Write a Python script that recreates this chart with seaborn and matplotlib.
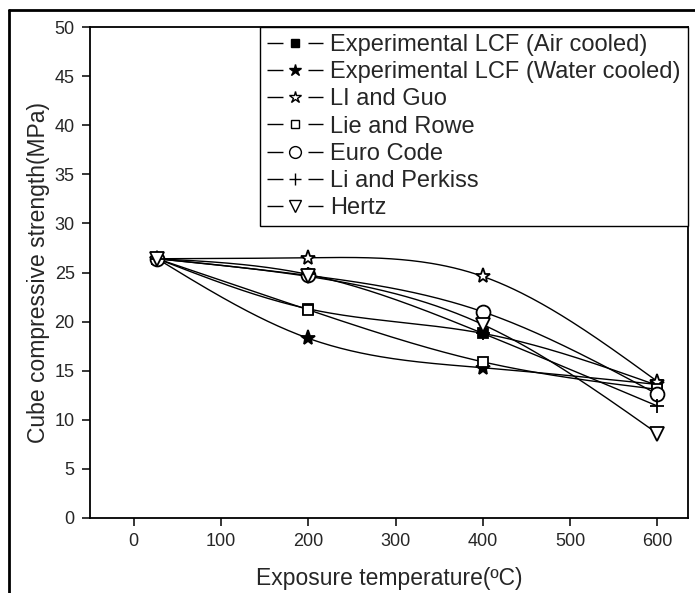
import numpy as np
import pandas as pd
import matplotlib
matplotlib.use("Agg")
import matplotlib.pyplot as plt
from matplotlib.lines import Line2D
from matplotlib.legend_handler import HandlerTuple
import seaborn as sns

# ---- data ----
temps = [27, 200, 400, 600]
air_cooled = [26.4, 21.3, 18.8, 13.5]
water_cooled = [26.4, 18.3, 15.3, 13.6]
li_guo = [26.4, 26.5, 24.6, 13.9]
lie_rowe = [26.4, 21.2, 15.9, 13.1]
euro_code = [26.4, 24.7, 21.0, 12.6]
li_perkiss = [26.4, 24.8, 18.8, 11.4]
hertz = [26.4, 24.6, 19.7, 8.6]

series_names = ["Experimental LCF (Air cooled)", "Experimental LCF (Water cooled)",
                "LI and Guo", "Lie and Rowe", "Euro Code", "Li and Perkiss", "Hertz"]
series_values = [air_cooled, water_cooled, li_guo, lie_rowe, euro_code, li_perkiss, hertz]
x_ticks = [0, 100, 200, 300, 400, 500, 600]
y_ticks = [0, 5, 10, 15, 20, 25, 30, 35, 40, 45, 50]

markers = ["s", "*", "*", "s", "o", "+", "v"]
faces = ["black", "black", "white", "white", "white", "none", "white"]
msizes = [7, 11, 11, 7, 10, 10, 10]


def natural_spline(x, y, n=200):
    x = np.asarray(x, float); y = np.asarray(y, float)
    k = len(x); h = np.diff(x)
    A = np.zeros((k, k)); b = np.zeros(k)
    A[0, 0] = 1; A[-1, -1] = 1
    for i in range(1, k - 1):
        A[i, i - 1] = h[i - 1]; A[i, i] = 2 * (h[i - 1] + h[i]); A[i, i + 1] = h[i]
        b[i] = 6 * ((y[i + 1] - y[i]) / h[i] - (y[i] - y[i - 1]) / h[i - 1])
    M = np.linalg.solve(A, b)
    xs = np.linspace(x[0], x[-1], n)
    idx = np.clip(np.searchsorted(x, xs) - 1, 0, k - 2)
    x0 = x[idx]; x1 = x[idx + 1]; hh = x1 - x0
    ys = (M[idx] * (x1 - xs) ** 3 / (6 * hh) + M[idx + 1] * (xs - x0) ** 3 / (6 * hh)
          + (y[idx] / hh - M[idx] * hh / 6) * (x1 - xs)
          + (y[idx + 1] / hh - M[idx + 1] * hh / 6) * (xs - x0))
    return xs, ys


sns.set_style("ticks")
plt.rcParams["font.family"] = ["Liberation Sans", "DejaVu Sans"]

fig = plt.figure(figsize=(6.95, 5.93), dpi=100)
ax = fig.add_axes([90 / 695, 1 - 518 / 593, (688 - 90) / 695, (518 - 27) / 593])

handles = []
for name, vals, m, fc, ms in zip(series_names, series_values, markers, faces, msizes):
    xs, ys = natural_spline(temps, vals)
    curve = pd.DataFrame({"x": xs, "y": ys})
    sns.lineplot(data=curve, x="x", y="y", ax=ax, color="black", linewidth=1.0,
                 sort=False, estimator=None)
    pts = pd.DataFrame({"x": temps, "y": vals})
    ax.plot(pts["x"], pts["y"], linestyle="none", marker=m, markersize=ms,
            markerfacecolor=fc, markeredgecolor="black", markeredgewidth=1.3,
            color="black", zorder=5)
    seg = Line2D([], [], color="black", linewidth=1.0, dashes=(11.5, 18, 11.5, 200))
    mk = Line2D([], [], linestyle="none", marker=m, markersize=ms * 0.85,
                markerfacecolor=fc, markeredgecolor="black", markeredgewidth=1.0)
    handles.append((seg, mk))

ax.set_xlim(-50, 635)
ax.set_ylim(0, 50)
ax.set_xticks(x_ticks)
ax.set_yticks(y_ticks)
ax.set_xlabel("Exposure temperature(ºC)", fontsize=16.5, labelpad=12)
ax.set_ylabel("Cube compressive strength(MPa)", fontsize=16.5, labelpad=3)
ax.tick_params(axis="both", direction="out", length=6, width=1.3, labelsize=13,
               top=False, right=False, pad=5)
for sp in ax.spines.values():
    sp.set_visible(True)
    sp.set_linewidth(1.3)
    sp.set_color("black")

leg = ax.legend(handles, series_names, loc="upper right", borderaxespad=0,
                fontsize=17, handlelength=2.4, handletextpad=0.3,
                labelspacing=0.22, borderpad=0.3, frameon=True, fancybox=False,
                framealpha=1, edgecolor="black",
                handler_map={tuple: HandlerTuple(ndivide=1, pad=0)})
leg.get_frame().set_linewidth(1.0)

# outer figure border (left and top)
fig.add_artist(Line2D([9 / 695, 9 / 695], [0, 1 - 10 / 593], transform=fig.transFigure,
                      color="black", linewidth=2))
fig.add_artist(Line2D([9 / 695, 1], [1 - 10 / 593, 1 - 10 / 593], transform=fig.transFigure,
                      color="black", linewidth=2))

fig.savefig("out.png", dpi=100)
